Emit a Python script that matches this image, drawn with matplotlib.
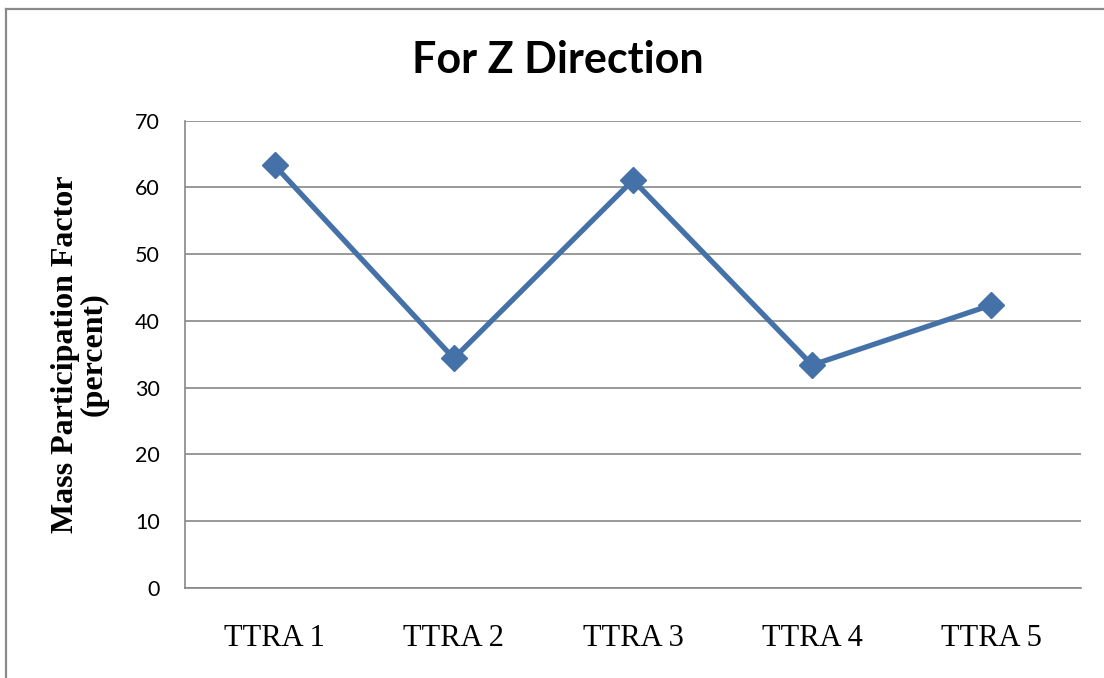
import matplotlib
matplotlib.use("Agg")
import matplotlib.pyplot as plt
from matplotlib.lines import Line2D

# Mass participation factor (Z direction) for each TTRA model
cases = ["TTRA 1", "TTRA 2", "TTRA 3", "TTRA 4", "TTRA 5"]
mass_factor = [63.3, 34.4, 61.1, 33.4, 42.4]
y_ticks = [0, 10, 20, 30, 40, 50, 60, 70]

line_color = "#4471A8"
grid_color = "#878787"

fig = plt.figure(figsize=(11.04, 6.78), dpi=100)
ax = fig.add_axes([185 / 1104, 1 - 588 / 678, (1081 - 185) / 1104, (588 - 120.7) / 678])

xs = range(len(cases))
ax.plot(xs, mass_factor, color=line_color, linewidth=3.8, marker="D",
        markersize=13, markerfacecolor=line_color, markeredgecolor=line_color,
        solid_joinstyle="miter", zorder=3)

ax.set_xlim(-0.5, len(cases) - 0.5)
ax.set_ylim(0, 70)
ax.set_yticks(y_ticks)
ax.set_yticklabels([str(v) for v in y_ticks], fontfamily="Lato", fontsize=15.5)
ax.set_xticks(list(xs))
ax.set_xticklabels(cases, fontfamily="Liberation Serif", fontsize=22)
ax.tick_params(axis="both", length=0)
ax.tick_params(axis="y", pad=18)
ax.tick_params(axis="x", pad=26)

ax.yaxis.grid(True, color=grid_color, linewidth=1.2)
ax.set_axisbelow(True)
for side in ("top", "right"):
    ax.spines[side].set_visible(False)
for side in ("left", "bottom"):
    ax.spines[side].set_color(grid_color)
    ax.spines[side].set_linewidth(1.2)

ax.set_ylabel("Mass Participation Factor\n(percent)", fontfamily="Liberation Serif",
              fontsize=23, fontweight="bold", linespacing=1.0)
ax.yaxis.set_label_coords(-76 / 896, 0.5)

fig.text(558 / 1104, 1 - 60 / 678, "For Z Direction", fontfamily="Lato",
         fontweight="bold", fontsize=31, ha="center", va="center")

# chart-area border: only its left and top edges fall inside the image
x0, y0 = 6 / 1104, 1 - 9 / 678
for xd, yd in (([x0, x0], [0, y0]), ([x0, 1], [y0, y0])):
    fig.add_artist(Line2D(xd, yd, transform=fig.transFigure,
                          color="#8a8a8a", linewidth=1.6))

fig.savefig("out.png", dpi=100)
